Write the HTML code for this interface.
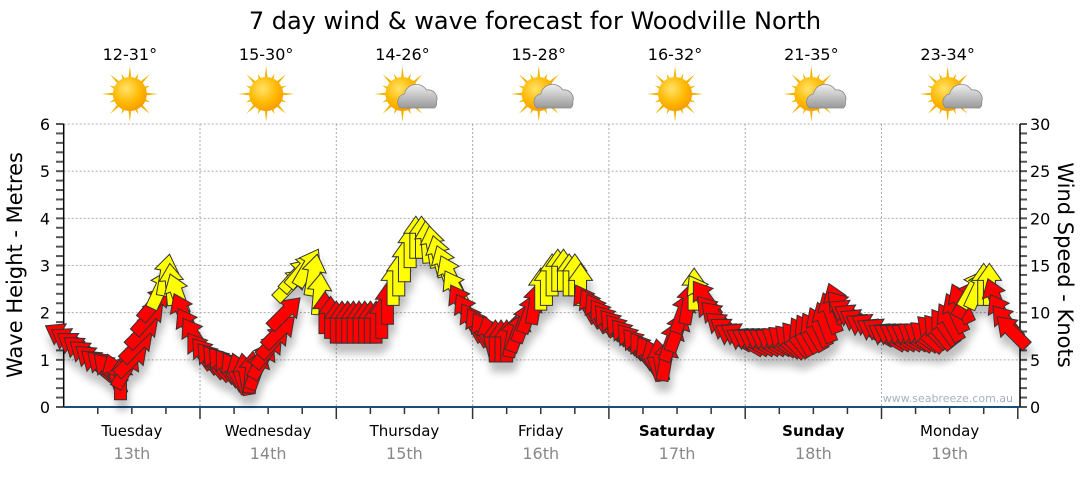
<!DOCTYPE html>
<html><head><meta charset="utf-8">
<style>
html,body{margin:0;padding:0;background:#fff;}
body{width:1080px;height:475px;overflow:hidden;font-family:"Liberation Sans","DejaVu Sans",sans-serif;}
svg text{font-family:"DejaVu Sans","Liberation Sans",sans-serif;}
</style></head>
<body>
<svg id="chart" width="1080" height="475" viewBox="0 0 1080 475" xmlns="http://www.w3.org/2000/svg">
<defs>
<filter id="shadow" x="-50%" y="-50%" width="200%" height="200%">
<feGaussianBlur in="SourceAlpha" stdDeviation="4"/>
<feOffset dx="2" dy="10" result="b"/>
<feComponentTransfer><feFuncA type="linear" slope="0.25"/></feComponentTransfer>
<feMerge><feMergeNode/><feMergeNode in="SourceGraphic"/></feMerge>
</filter>
<radialGradient id="sunG" cx="0.4" cy="0.35" r="0.7"><stop offset="0" stop-color="#ffe36a"/><stop offset="0.6" stop-color="#ffb800"/><stop offset="1" stop-color="#f59a00"/></radialGradient>
<linearGradient id="cloudG" x1="0" y1="0" x2="0" y2="1"><stop offset="0" stop-color="#eee"/><stop offset="1" stop-color="#999"/></linearGradient>
</defs>
<text x="535" y="29" font-size="24" text-anchor="middle" fill="#000">7 day wind &amp; wave forecast for Woodville North</text>
<g id="grid"></g>
<g id="axes"></g>
<g id="icons"></g>
<g id="arrows" filter="url(#shadow)"></g>
<text transform="translate(22,265) rotate(-90)" font-size="21" text-anchor="middle" fill="#000">Wave Height - Metres</text>
<text transform="translate(1058,265) rotate(90)" font-size="21" text-anchor="middle" fill="#000">Wind Speed - Knots</text>
<text x="1013" y="402" font-size="11" text-anchor="end" fill="#a9b0bb">www.seabreeze.com.au</text>
</svg>
<script>
const days = ["Tuesday","Wednesday","Thursday","Friday","Saturday","Sunday","Monday"];
const dates = ["13th","14th","15th","16th","17th","18th","19th"];
const boldDays = [false,false,false,false,true,true,false];
const temps = ["12-31°","15-30°","14-26°","15-28°","16-32°","21-35°","23-34°"];
const cloudy = [false,false,true,true,false,true,true];
const leftTicks = [0,1,2,3,4,5,6];
const rightTicks = [0,5,10,15,20,25,30];
const windSpeed = [
 7.5,7,6.5,6,5.5,5,4.5,4.3,4,3.5,3,4,5,6.5,8,9.5,11,12.5,14,13,12,10,8.5,7.5,
 6,5.5,5,4.7,4.5,4.2,3.8,3.6,3.5,3.7,4,5,6,7,8,10,13,14,14.5,14.8,14,12,10,9.5,
 9,9,9,9,9,9,9,9,9.5,11,13,14,15.5,17,18,18,17.5,17,16,15,14,12.5,11,10,
 9,8.5,8,7.5,7,7,7,7.5,8,9,10,11,12.5,13,14,14.5,14.5,14,14,13,11,10.5,10,9.5,
 9,8.5,8,7.5,7,6.5,6,5.5,5,5,5,7,8,10,11,12.5,12,11.5,10,9.5,8.5,8,7.5,7.5,
 7,7,7,7,7,7,7,7,7,7.2,7.5,7.8,8,8.5,9,10,11,10.5,10,9.5,9,8.5,8.5,8,
 8,7.5,7.5,7.5,7.5,7.5,7.5,7.5,7.5,8,8,8.5,9,10,11,11.5,12.5,12.5,13,13,11.5,10,9,8];
const windDir = [
 -60,-58,-55,-52,-50,-50,-50,-48,-45,-20,0,30,45,45,45,42,40,25,10,-5,-20,-25,-30,-32,
 -35,-38,-40,-40,-40,-35,-30,-20,-10,5,20,30,40,42,45,45,45,42,40,30,10,5,0,0,
 0,0,0,0,0,0,0,0,0,0,0,0,0,0,0,0,-5,-10,-15,-20,-25,-30,-30,-30,
 -30,-30,-30,-15,0,0,0,10,20,20,20,10,0,0,0,0,0,0,0,0,-30,-30,-30,-35,
 -40,-40,-40,-40,-40,-40,-35,-30,-20,-10,10,20,20,20,10,0,-30,-35,-40,-45,-50,-55,-60,-60,
 -60,-60,-60,-60,-60,-60,-55,-50,-45,-40,-30,-30,-30,-25,-20,-20,-20,-40,-60,-60,-60,-60,-60,-60,
 -60,-60,-60,-60,-60,-60,-55,-55,-50,-45,-40,-35,-30,-25,-25,30,30,25,0,0,-20,-30,-40,-45];

const NS="http://www.w3.org/2000/svg";
const X0=63.7, X1=1017.8, Y0=407, Y1=124;
const xH = h => X0 + h*(X1-X0)/168;
const yM = m => Y0 - m*(Y0-Y1)/6;
const yK = k => Y0 - k*(Y0-Y1)/30;
function mk(tag, attrs, parent){const e=document.createElementNS(NS,tag);for(const k in attrs)e.setAttribute(k,attrs[k]);parent.appendChild(e);return e;}
const grid=document.getElementById('grid'), axes=document.getElementById('axes'), icons=document.getElementById('icons'), arrows=document.getElementById('arrows');

leftTicks.forEach(v=>{
  if(v>0){const g=mk('line',{x1:X0,x2:X1,y1:yM(v),y2:yM(v),stroke:'#aaa','stroke-dasharray':'2,2'},grid);
  
  }
  const t=mk('text',{x:50,y:yM(v)+6,'font-size':16,'text-anchor':'end',fill:'#000'},axes);t.textContent=v;
  
  
});
rightTicks.forEach(v=>{
  const t=mk('text',{x:1030,y:yK(v)+6,'font-size':16,'text-anchor':'start',fill:'#000'},axes);t.textContent=v;
  
  
});
for(let i=0;i<=30;i++){
  const y=yM(i*0.2);
  mk('line',{x1:56,x2:X0,y1:y,y2:y,stroke:'#555','stroke-width':2},axes);
  mk('line',{x1:1020,x2:1027,y1:y,y2:y,stroke:'#555','stroke-width':2},axes);
}
mk('line',{x1:X0,x2:X0,y1:Y1,y2:Y0,stroke:'#000','stroke-width':1.5},axes);
mk('line',{x1:1020,x2:1020,y1:Y1,y2:Y0,stroke:'#000','stroke-width':1.5},axes);
for(let d=0;d<7;d++){
  const xb=xH((d+1)*24);
  if(d<6){const g=mk('line',{x1:xb,x2:xb,y1:Y1,y2:Y0,stroke:'#aaa','stroke-dasharray':'2,2'},grid);
  
  }
  for(let q=1;q<=4;q++){const x=xH(d*24+q*6);mk('line',{x1:x,x2:x,y1:Y0,y2:Y0+(q==4?12:7),stroke:'#333','stroke-width':1.5},axes);}
  const cx=xH(d*24+12);
  const dl=mk('text',{x:cx,y:436,'font-size':15,'text-anchor':'middle',fill:'#000','font-weight':boldDays[d]?'bold':'normal'},axes);dl.textContent=days[d];
  
  
  const dt=mk('text',{x:cx,y:459,'font-size':16,'text-anchor':'middle',fill:'#888'},axes);dt.textContent=dates[d];
  
  
  const tl=mk('text',{x:cx-2,y:60,'font-size':16,'text-anchor':'middle',fill:'#000'},icons);tl.textContent=temps[d];
  
  
  const ic=mk('g',{transform:`translate(${cx-2},94)`},icons);
  
  
  for(let r=0;r<16;r++){const a=r*Math.PI/8, L=(r%2==0)?28:22;
    mk('polygon',{points:`${Math.cos(a-0.12)*14},${Math.sin(a-0.12)*14} ${Math.cos(a)*L},${Math.sin(a)*L} ${Math.cos(a+0.12)*14},${Math.sin(a+0.12)*14}`,fill:'#f2b400'},ic);}
  mk('circle',{cx:0,cy:0,r:17,fill:'url(#sunG)'},ic);
  if(cloudy[d]){
    mk('path',{d:'M -2 14 a 8 8 0 0 1 4 -14 a 12 12 0 0 1 22 -4 a 9 9 0 0 1 10 12 a 6 6 0 0 1 -2 6 z',fill:'url(#cloudG)',stroke:'#888','stroke-width':0.8},ic);
  }
}
mk('line',{x1:X0,x2:1020,y1:Y0,y2:Y0,stroke:'#1a4d7a','stroke-width':2},axes);

windSpeed.forEach((s,i)=>{
  const x=xH(i), y=yK(s);
  const col = s>=12 ? '#ffff00' : '#ff0000';
  const a=mk('polygon',{points:'0,-21 12,-4 6,-4 6,21 -6,21 -6,-4 -12,-4',fill:col,stroke:'#333','stroke-width':1,transform:`translate(${x},${y}) rotate(${windDir[i]})`},arrows);
  
  
});
</script>
</body></html>
